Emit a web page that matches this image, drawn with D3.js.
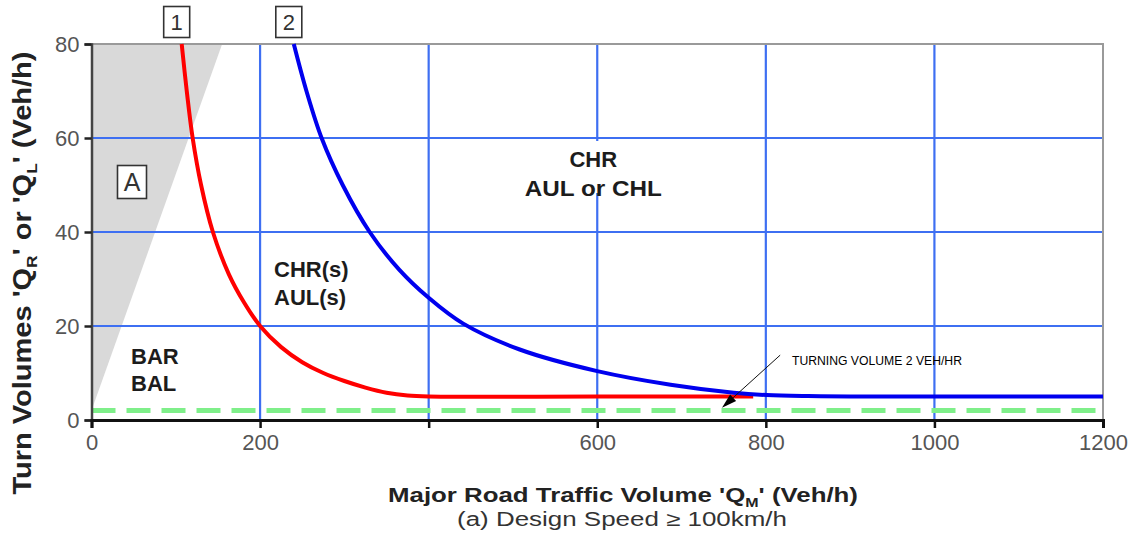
<!DOCTYPE html>
<html>
<head>
<meta charset="utf-8">
<script src="https://cdn.jsdelivr.net/npm/d3@7"></script>
<style>
  body { margin: 0; background: #fff; }
  text { font-family: "Liberation Sans", Arial, sans-serif; }
</style>
</head>
<body>
<div id="chart"></div>
<script>
// values
var xTicks = [0, 200, 400, 600, 800, 1000, 1200];
var xTickLabels = ["0", "200", "", "600", "800", "1000", "1200"];
var yTicks = [0, 20, 40, 60, 80];

// curve 1 (red)
var curve1X = [107, 113, 120, 130, 144, 163, 181, 200, 225, 250, 275, 300, 325, 350, 375, 400, 600, 785];
var curve1Y = [80, 70, 60, 50, 40, 31, 25, 20, 15.5, 12.3, 10, 8.3, 6.9, 5.8, 5.2, 5, 5, 5];
// curve 2 (blue)
var curve2X = [240, 255, 273, 298, 330, 365, 400, 441, 508, 600, 687, 762, 801, 850, 900, 1200];
var curve2Y = [80, 70, 60, 50, 40, 32, 26, 20.5, 15, 10.4, 7.5, 5.8, 5.3, 5.08, 5, 5];
// shaded area A
var areaAX = [0, 155, 0];
var areaAY = [80, 80, 2];
// min turning volume line
var minTurnX = [0, 1200];
var minTurnY = [2, 2];

var regionLabels = ["CHR", "AUL or CHL", "CHR(s)", "AUL(s)", "BAR", "BAL"];

function drawChart() {
    var W = 1135, H = 543;
    var left = 91.5, top = 44, right = 1103, bottom = 420;

    var svg = d3.select("#chart").append("svg")
        .attr("width", W)
        .attr("height", H);

    var x = d3.scaleLinear().domain([0, 1200]).range([left, right]);
    var y = d3.scaleLinear().domain([0, 80]).range([bottom, top]);

    svg.append("clipPath").attr("id", "plot")
      .append("rect")
        .attr("x", left).attr("y", top - 2)
        .attr("width", right - left).attr("height", bottom - top + 2);

    // gray area A
    var pts = areaAX.map(function (d, i) { return [x(d), y(areaAY[i])]; });
    svg.append("polygon")
        .attr("points", pts.map(function (p) { return p.join(","); }).join(" "))
        .style("fill", "#d9d9d9");

    // grid
    var grid = svg.append("g");
    grid.selectAll("line.v")
      .data(xTicks.slice(1, -1))
      .enter().append("line")
        .attr("x1", function (d) { return x(d); })
        .attr("x2", function (d) { return x(d); })
        .attr("y1", top).attr("y2", bottom)
        .style("stroke", "#3e6ff2").style("stroke-width", 2.2);
    grid.selectAll("line.h")
      .data(yTicks.slice(1, -1))
      .enter().append("line")
        .attr("x1", left).attr("x2", right)
        .attr("y1", function (d) { return y(d); })
        .attr("y2", function (d) { return y(d); })
        .style("stroke", "#3e6ff2").style("stroke-width", 2.2);

    // white box behind CHR label hides part of the 600 grid line
    svg.append("rect")
        .attr("x", x(600) - 40).attr("y", y(60) + 3)
        .attr("width", 80).attr("height", 52)
        .style("fill", "#fff");

    // top and right border
    svg.append("path")
        .attr("d", "M" + left + "," + top + "H" + right + "V" + bottom)
        .style("fill", "none").style("stroke", "#9a9a9a").style("stroke-width", 2);

    // min turning volume
    svg.append("line")
        .attr("x1", x(minTurnX[0])).attr("x2", x(minTurnX[1]))
        .attr("y1", y(minTurnY[0])).attr("y2", y(minTurnY[1]))
        .style("stroke", "#7fef8a").style("stroke-width", 5)
        .style("stroke-dasharray", "24,11");

    var line = d3.line()
        .x(function (d) { return x(d[0]); })
        .y(function (d) { return y(d[1]); })
        .curve(d3.curveCatmullRom.alpha(0.5));

    svg.append("path")
        .datum(curve1X.map(function (d, i) { return [d, curve1Y[i]]; }))
        .attr("d", line)
        .attr("clip-path", "url(#plot)")
        .style("fill", "none").style("stroke", "#ff0000").style("stroke-width", 4);
    svg.append("path")
        .datum(curve2X.map(function (d, i) { return [d, curve2Y[i]]; }))
        .attr("d", line)
        .attr("clip-path", "url(#plot)")
        .style("fill", "none").style("stroke", "#0000ee").style("stroke-width", 4);

    // axes
    var yAxis = svg.append("g")
        .attr("transform", "translate(" + left + ",0)")
        .call(d3.axisLeft(y).tickValues(yTicks).tickSize(7).tickPadding(5));
    yAxis.select(".domain").style("stroke", "#444").style("stroke-width", 2.5);
    yAxis.selectAll(".tick line").style("stroke", "#222").style("stroke-width", 2.5);
    yAxis.selectAll(".tick text")
        .style("font-size", "22px").style("fill", "#555")
        .attr("dy", "0.36em");

    var xAxis = svg.append("g")
        .attr("transform", "translate(0," + bottom + ")")
        .call(d3.axisBottom(x).tickValues(xTicks).tickSize(8).tickPadding(6)
            .tickFormat(function (d, i) { return xTickLabels[i]; }));
    xAxis.select(".domain").style("stroke", "#111").style("stroke-width", 3);
    xAxis.selectAll(".tick line").style("stroke", "#111").style("stroke-width", 2.5);
    xAxis.selectAll(".tick text")
        .style("font-size", "22px").style("fill", "#555");

    // region labels
    var lab = svg.append("g")
        .style("font-weight", "bold").style("font-size", "22px")
        .style("fill", "#1c1c1c");
    lab.append("text").attr("x", x(600) - 4).attr("y", 167)
        .attr("text-anchor", "middle").text(regionLabels[0]);
    lab.append("text").attr("x", x(600) - 4).attr("y", 196)
        .attr("text-anchor", "middle").attr("textLength", 137)
        .attr("lengthAdjust", "spacingAndGlyphs").text(regionLabels[1]);
    lab.append("text").attr("x", 274).attr("y", 277).text(regionLabels[2]);
    lab.append("text").attr("x", 274).attr("y", 305).text(regionLabels[3]);
    lab.append("text").attr("x", 131).attr("y", 364).text(regionLabels[4]);
    lab.append("text").attr("x", 131).attr("y", 391).text(regionLabels[5]);

    // curve number boxes and A box
    var boxes = [
        { t: "1", cx: x(curve1X[0]) - 5, cy: 22, w: 26, h: 31, fs: 22 },
        { t: "2", cx: x(curve2X[0]) - 5, cy: 22, w: 26, h: 31, fs: 22 },
        { t: "A", cx: 132, cy: 182, w: 29, h: 33, fs: 25 }
    ];
    boxes.forEach(function (b) {
        svg.append("rect")
            .attr("x", b.cx - b.w / 2).attr("y", b.cy - b.h / 2)
            .attr("width", b.w).attr("height", b.h)
            .style("fill", "#fff").style("stroke", "#333").style("stroke-width", 1.6);
        svg.append("text")
            .attr("x", b.cx).attr("y", b.cy + b.fs * 0.36)
            .attr("text-anchor", "middle")
            .style("font-size", b.fs + "px").style("fill", "#333")
            .text(b.t);
    });

    // annotation arrow
    var tip = [x(748), y(2.6)], tail = [x(817), y(13.8)];
    var ang = Math.atan2(tip[1] - tail[1], tip[0] - tail[0]);
    var hl = 15, hw = 4.5;
    var bx = tip[0] - hl * Math.cos(ang), by = tip[1] - hl * Math.sin(ang);
    svg.append("line")
        .attr("x1", tail[0]).attr("y1", tail[1])
        .attr("x2", bx).attr("y2", by)
        .style("stroke", "#111").style("stroke-width", 1);
    svg.append("polygon")
        .attr("points", [
            tip,
            [bx + hw * Math.sin(ang), by - hw * Math.cos(ang)],
            [bx - hw * Math.sin(ang), by + hw * Math.cos(ang)]
        ].map(function (p) { return p.join(","); }).join(" "))
        .style("fill", "#000");
    svg.append("text")
        .attr("x", x(831)).attr("y", 365)
        .attr("textLength", 170).attr("lengthAdjust", "spacingAndGlyphs")
        .style("font-size", "12px").style("fill", "#000")
        .text("TURNING VOLUME 2 VEH/HR");

    // axis titles
    var yt = svg.append("text")
        .attr("transform", "translate(31,273) rotate(-90)")
        .attr("text-anchor", "middle")
        .attr("textLength", 443).attr("lengthAdjust", "spacingAndGlyphs")
        .style("font-size", "25px").style("font-weight", "bold").style("fill", "#222");
    yt.append("tspan").text("Turn Volumes 'Q");
    yt.append("tspan").attr("dy", 6).style("font-size", "15px").text("R");
    yt.append("tspan").attr("dy", -6).text("' or 'Q");
    yt.append("tspan").attr("dy", 6).style("font-size", "15px").text("L");
    yt.append("tspan").attr("dy", -6).text("' (Veh/h)");

    var xt = svg.append("text")
        .attr("x", 623).attr("y", 502)
        .attr("text-anchor", "middle")
        .attr("textLength", 470).attr("lengthAdjust", "spacingAndGlyphs")
        .style("font-size", "21px").style("font-weight", "bold").style("fill", "#222");
    xt.append("tspan").text("Major Road Traffic Volume 'Q");
    xt.append("tspan").attr("dy", 5).style("font-size", "13px").text("M");
    xt.append("tspan").attr("dy", -5).text("' (Veh/h)");

    svg.append("text")
        .attr("x", 622).attr("y", 526)
        .attr("text-anchor", "middle")
        .attr("textLength", 330).attr("lengthAdjust", "spacingAndGlyphs")
        .style("font-size", "20px").style("fill", "#333")
        .text("(a) Design Speed \u2265 100km/h");
}
drawChart();
</script>
</body>
</html>
